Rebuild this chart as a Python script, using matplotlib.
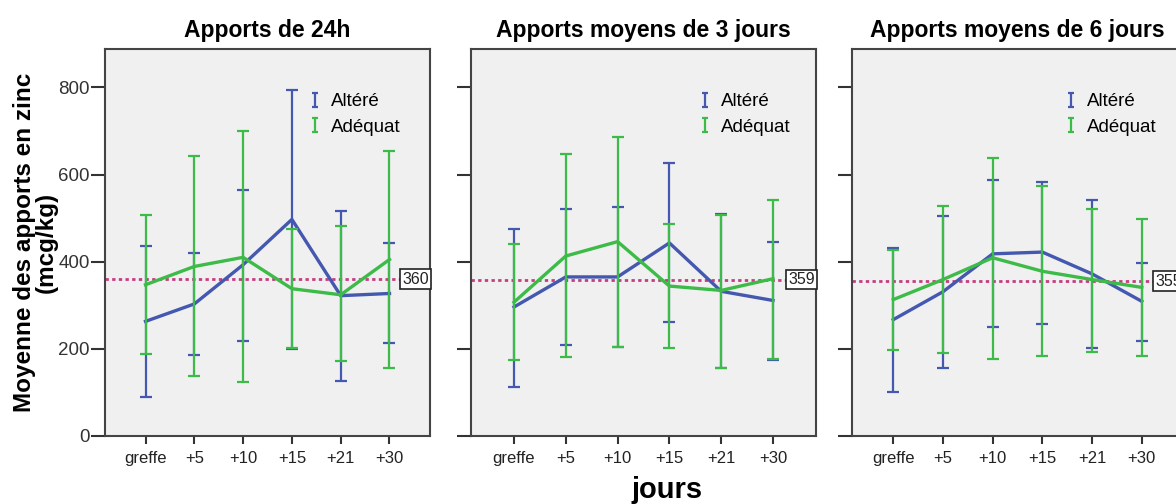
import matplotlib.pyplot as plt
import numpy as np
from matplotlib.lines import Line2D
from matplotlib.path import Path

plt.rcParams['font.family'] = ['Liberation Sans', 'DejaVu Sans']

DAYS = ["greffe", "+5", "+10", "+15", "+21", "+30"]
TITLES = ["Apports de 24h", "Apports moyens de 3 jours", "Apports moyens de 6 jours"]
REF = [360, 359, 355]

# mean, lower and upper bound of the interval, one row per panel
ALT_MEAN = [[263, 303, 393, 497, 322, 327],
            [296, 365, 365, 443, 332, 311],
            [267, 331, 418, 422, 372, 309]]
ALT_LOW = [[89, 185, 219, 200, 127, 213],
           [113, 209, 204, 262, 156, 175],
           [100, 156, 250, 258, 203, 217]]
ALT_HIGH = [[437, 420, 564, 794, 516, 443],
            [476, 522, 526, 627, 510, 446],
            [431, 505, 587, 583, 541, 397]]

ADQ_MEAN = [[347, 389, 410, 338, 324, 405],
            [307, 413, 446, 344, 334, 361],
            [313, 359, 409, 378, 359, 341]]
ADQ_LOW = [[188, 137, 123, 202, 173, 156],
           [175, 181, 204, 202, 156, 177],
           [198, 190, 177, 183, 193, 184]]
ADQ_HIGH = [[507, 643, 700, 476, 482, 653],
            [441, 647, 686, 486, 508, 542],
            [426, 528, 639, 573, 522, 499]]

BLUE = "#4458b0"
GREEN = "#3dbb48"
REF_COLOR = "#c63d82"

# small "I" shaped marker for the legend
I_BEAM = Path([(-0.45, 1), (0.45, 1), (0, 1), (0, -1), (-0.45, -1), (0.45, -1)],
              [Path.MOVETO, Path.LINETO, Path.MOVETO, Path.LINETO, Path.MOVETO, Path.LINETO])

fig = plt.figure(figsize=(11.76, 5.04), dpi=100)
bottom, height = 68 / 504, 387 / 504
lefts = [105 / 1176, 471 / 1176, 852 / 1176]
widths = [325 / 1176, 345 / 1176, 331 / 1176]
leg_x = [0.60, 0.635, 0.615]

x = np.arange(len(DAYS))
for i in range(3):
    ax = fig.add_axes([lefts[i], bottom, widths[i], height])
    ax.set_facecolor("#f0f0f0")

    handles = []
    for mean, low, high, color, name in [
        (ALT_MEAN[i], ALT_LOW[i], ALT_HIGH[i], BLUE, "Altéré"),
        (ADQ_MEAN[i], ADQ_LOW[i], ADQ_HIGH[i], GREEN, "Adéquat"),
    ]:
        mean = np.array(mean)
        yerr = [mean - np.array(low), np.array(high) - mean]
        ax.errorbar(x, mean, yerr=yerr, fmt="none", ecolor=color,
                    elinewidth=1.6, capsize=4, capthick=1.6)
        ax.plot(x, mean, color=color, lw=2.4)
        handles.append(Line2D([], [], ls="none", marker=I_BEAM, ms=10,
                              mec=color, mew=1.6, label=name))

    ax.axhline(REF[i], color=REF_COLOR, lw=2, ls=(0, (1.2, 1.2)), zorder=1)
    ax.text(0.997, REF[i], str(REF[i]), transform=ax.get_yaxis_transform(),
            ha="right", va="center", fontsize=11.5, color="#222",
            bbox=dict(boxstyle="square,pad=0.15", fc="white", ec="#222", lw=1.2))

    ax.set_xlim(-0.83, 5.83)
    ax.set_ylim(0, 888)
    ax.set_xticks(x, DAYS, fontsize=12)
    ax.set_yticks([0, 200, 400, 600, 800])
    ax.tick_params(axis="x", length=6, width=1.5, color="#333", labelcolor="#222", pad=5)
    ax.tick_params(axis="y", length=10, width=1.5, color="#333", labelcolor="#333",
                   labelsize=13.5, pad=1)
    if i > 0:
        ax.tick_params(axis="y", labelleft=False)
    for s in ax.spines.values():
        s.set_color("#444")
        s.set_linewidth(1.5)

    ax.set_title(TITLES[i], fontsize=16.5, fontweight="bold", pad=9)
    ax.legend(handles=handles, loc="upper left", bbox_to_anchor=(leg_x[i], 0.905),
              frameon=False, fontsize=13.5, handlelength=0.8, handletextpad=0.45,
              labelspacing=0.45, borderaxespad=0)

    if i == 0:
        ax.set_ylabel("Moyenne des apports en zinc\n(mcg/kg)", fontsize=17.5,
                      fontweight="bold", linespacing=0.95, labelpad=0)

fig.text(0.567, 0.028, "jours", ha="center", va="center", fontsize=21,
         fontweight="bold")

fig.savefig("out.png", dpi=100)
